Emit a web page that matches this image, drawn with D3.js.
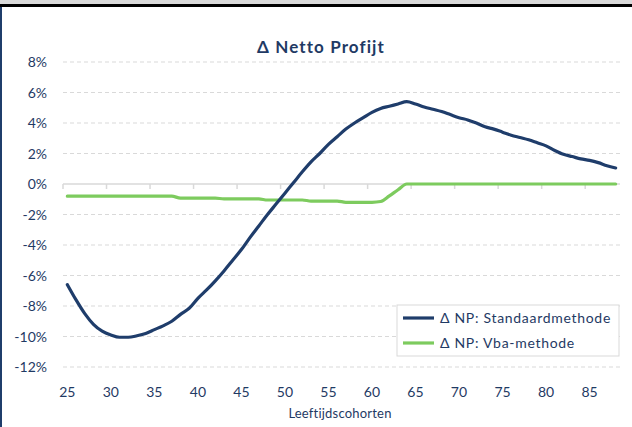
<!DOCTYPE html>
<html>
<head>
<meta charset="utf-8">
<script src="https://cdn.jsdelivr.net/npm/d3@7"></script>
<style>
  body { margin: 0; background: #fff; }
  text { font-family: Lato, "Open Sans", sans-serif; }
</style>
</head>
<body>
<svg></svg>
<script>
"use strict";

// leeftijdscohorten 25..88
var cohorts = d3.range(25, 89);

var standaard = [
    -6.6, -7.6, -8.5, -9.2, -9.65, -9.9, -10.05, -10.05, -9.95, -9.8,
    -9.55, -9.3, -9.0, -8.55, -8.15, -7.5, -6.95, -6.35, -5.7, -5.0,
    -4.3, -3.5, -2.75, -2.0, -1.3, -0.6, 0.1, 0.8, 1.45, 2.0,
    2.6, 3.1, 3.6, 4.0, 4.35, 4.7, 4.95, 5.1, 5.25, 5.4,
    5.25, 5.05, 4.9, 4.75, 4.55, 4.35, 4.2, 4.0, 3.75, 3.6,
    3.4, 3.2, 3.05, 2.9, 2.7, 2.5, 2.2, 1.95, 1.8, 1.65,
    1.55, 1.4, 1.2, 1.05
];

var vba = [
    -0.8, -0.8, -0.8, -0.8, -0.8, -0.8, -0.8, -0.8, -0.8, -0.8,
    -0.8, -0.8, -0.8, -0.92, -0.92, -0.92, -0.92, -0.92, -0.98, -0.98,
    -0.98, -0.98, -0.98, -1.05, -1.05, -1.05, -1.05, -1.05, -1.12, -1.12,
    -1.12, -1.12, -1.2, -1.2, -1.2, -1.2, -1.15, -0.78, -0.38, 0,
    0, 0, 0, 0, 0, 0, 0, 0, 0, 0,
    0, 0, 0, 0, 0, 0, 0, 0, 0, 0,
    0, 0, 0, 0
];

var yTicks = [8, 6, 4, 2, 0, -2, -4, -6, -8, -10, -12];
var xLabels = [25, 30, 35, 40, 45, 50, 55, 60, 65, 70, 75, 80, 85];
var seriesNames = ["\u0394 NP: Standaardmethode", "\u0394 NP: Vba-methode"];

var width = 632,
    height = 427;

var navy = "#1f3d6b",
    green = "#7dcb5e",
    textColor = "#1f3a64",
    gridColor = "#d9d9d9";

var svg = d3.select("svg")
    .attr("width", width)
    .attr("height", height);

// frame: grey band, black rule, navy left edge
svg.append("rect").attr("x", 0).attr("y", 0).attr("width", width).attr("height", 4).attr("fill", "#d9d9d9");
svg.append("rect").attr("x", 0).attr("y", 4).attr("width", width).attr("height", 3).attr("fill", "#000");
svg.append("rect").attr("x", 0).attr("y", 7).attr("width", 2).attr("height", height - 7).attr("fill", navy);

var x = d3.scaleLinear().domain([24.5, 88.5]).range([63, 620]);
var y = d3.scaleLinear().domain([-12, 8]).range([367, 62]);

// gridlines
svg.append("g")
    .selectAll("line")
    .data(yTicks.filter(function (d) { return d !== 0; }))
    .enter()
    .append("line")
    .attr("x1", x.range()[0])
    .attr("x2", x.range()[1])
    .attr("y1", function (d) { return y(d); })
    .attr("y2", function (d) { return y(d); })
    .attr("stroke", gridColor)
    .attr("stroke-width", 1)
    .attr("stroke-dasharray", "4,3");

// y labels
svg.append("g")
    .selectAll("text")
    .data(yTicks)
    .enter()
    .append("text")
    .attr("x", 47)
    .attr("y", function (d) { return y(d); })
    .attr("dy", "0.36em")
    .attr("text-anchor", "end")
    .attr("fill", textColor)
    .style("font-size", "14px")
    .text(function (d) { return d + "%"; });

// x axis on the 0% line, ticks every 5 cohorts on category boundaries
var xAxis = svg.append("g").attr("transform", "translate(0," + y(0) + ")");
xAxis.append("line")
    .attr("x1", x.range()[0])
    .attr("x2", x.range()[1])
    .attr("stroke", gridColor)
    .attr("stroke-width", 1.5);
xAxis.selectAll("line.tick")
    .data(xLabels)
    .enter()
    .append("line")
    .attr("class", "tick")
    .attr("x1", function (d) { return x(d - 0.5); })
    .attr("x2", function (d) { return x(d - 0.5); })
    .attr("y1", 0)
    .attr("y2", 5)
    .attr("stroke", gridColor)
    .attr("stroke-width", 1.5);

svg.append("g")
    .selectAll("text")
    .data(xLabels)
    .enter()
    .append("text")
    .attr("x", function (d) { return x(d); })
    .attr("y", 397)
    .attr("text-anchor", "middle")
    .attr("fill", textColor)
    .style("font-size", "14px")
    .text(function (d) { return d; });

svg.append("text")
    .attr("x", 340)
    .attr("y", 418)
    .attr("text-anchor", "middle")
    .attr("fill", textColor)
    .style("font-size", "13px")
    .style("letter-spacing", "0.2px")
    .text("Leeftijdscohorten");

svg.append("text")
    .attr("x", 321)
    .attr("y", 53)
    .attr("text-anchor", "middle")
    .attr("fill", textColor)
    .style("font-size", "17px")
    .style("font-weight", "bold")
    .style("letter-spacing", "1.1px")
    .text("\u0394 Netto Profijt");

// series
var line = d3.line()
    .x(function (d, i) { return x(cohorts[i]); })
    .y(function (d) { return y(d); })
    .curve(d3.curveMonotoneX);

svg.append("path")
    .datum(vba)
    .attr("d", line)
    .attr("fill", "none")
    .attr("stroke", green)
    .attr("stroke-width", 3.2)
    .attr("stroke-linejoin", "round")
    .attr("stroke-linecap", "round");

svg.append("path")
    .datum(standaard)
    .attr("d", line)
    .attr("fill", "none")
    .attr("stroke", navy)
    .attr("stroke-width", 3.2)
    .attr("stroke-linejoin", "round")
    .attr("stroke-linecap", "round");

// legend
var legend = svg.append("g").attr("transform", "translate(397,305)");
legend.append("rect")
    .attr("width", 222)
    .attr("height", 51)
    .attr("fill", "#fff")
    .attr("stroke", gridColor);

var item = legend.selectAll("g.item")
    .data(seriesNames)
    .enter()
    .append("g")
    .attr("class", "item")
    .attr("transform", function (d, i) { return "translate(0," + (13 + i * 25) + ")"; });
item.append("line")
    .attr("x1", 6)
    .attr("x2", 37)
    .attr("stroke", function (d, i) { return i === 0 ? navy : green; })
    .attr("stroke-width", 3.2);
item.append("text")
    .attr("x", 43)
    .attr("dy", "0.36em")
    .attr("fill", textColor)
    .style("font-size", "14px")
    .style("letter-spacing", "0.7px")
    .text(function (d) { return d; });
</script>
</body>
</html>
